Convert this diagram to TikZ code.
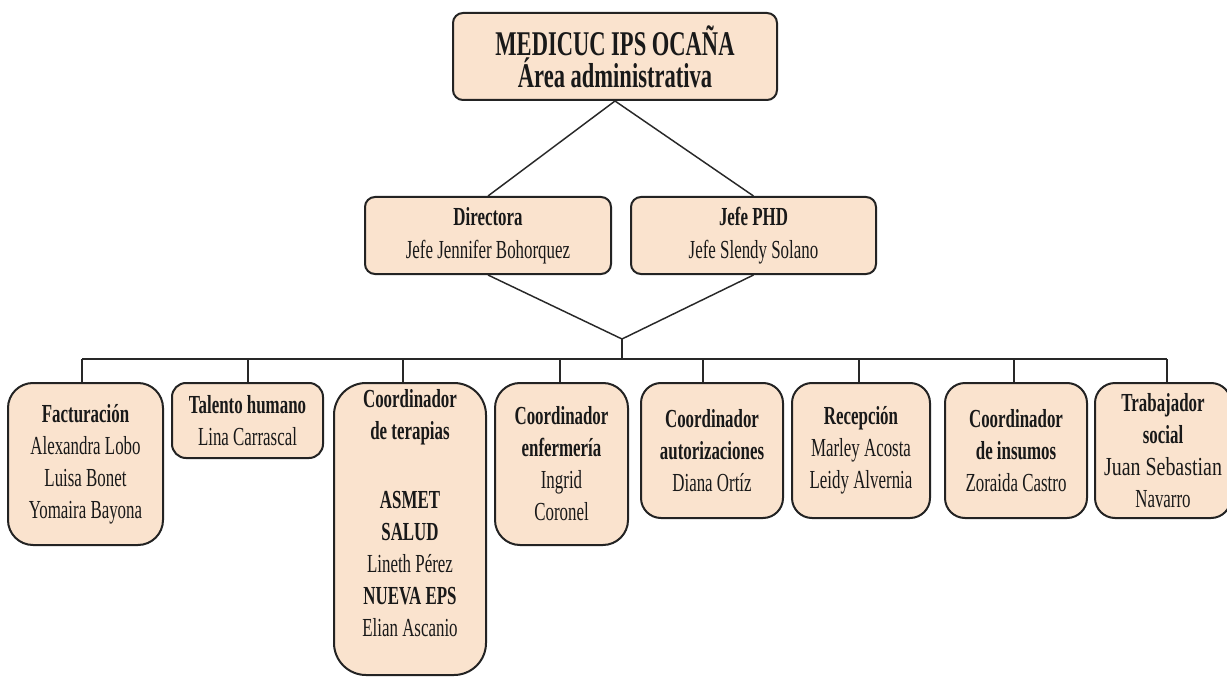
\documentclass[tikz,border=0pt]{standalone}
\usepackage{fontspec}
\setmainfont[FakeStretch=0.65]{Liberation Serif}
\usepackage{graphicx}
\definecolor{boxfill}{RGB}{250,227,206}
\definecolor{boxline}{RGB}{35,35,35}
\definecolor{connline}{RGB}{40,40,40}
\lineskiplimit=-30pt
\begin{document}
\begin{tikzpicture}[x=0.75pt,y=-0.75pt,
  box/.style={draw=boxline, fill=boxfill, line width=1.5pt, align=center, inner sep=0pt,
    text=black!90, font=\fontsize{19.5pt}{24pt}\selectfont},
  midbox/.style={box, font=\fontsize{19.5pt}{25pt}\selectfont},
  topbox/.style={box, font=\bfseries\fontsize{26pt}{24pt}\selectfont},
  conn/.style={draw=connline, line width=1.1pt}]
\useasboundingbox (0,0) rectangle (1227,677);
\fill[white] (0,0) rectangle (1227,677);

% top
\node[topbox, minimum width=243pt, minimum height=65.25pt, rounded corners=7.5pt] (top) at (615,56.5)
  {MEDICUC IPS OCAÑA\\Área administrativa};

% second level
\node[midbox, minimum width=184.5pt, minimum height=57.75pt, rounded corners=7.5pt] (dir) at (488,235.5)
  {\textbf{Directora}\\Jefe Jennifer Bohorquez};
\node[midbox, minimum width=183.75pt, minimum height=57.75pt, rounded corners=7.5pt] (jefe) at (753.5,235.5)
  {\textbf{Jefe PHD}\\Jefe Slendy Solano};

% third level
\node[box, minimum width=116.25pt, minimum height=121.5pt, rounded corners=18.75pt] (fact) at (85.5,464)
  {\textbf{Facturación}\\Alexandra Lobo\\Luisa Bonet\\Yomaira Bayona};
\node[box, minimum width=113.25pt, minimum height=56.25pt, rounded corners=10.5pt] (tal) at (247.5,420.5)
  {\textbf{Talento humano}\\Lina Carrascal};
\node[box, minimum width=114pt, minimum height=219pt, rounded corners=24pt] (ter) at (410,529)
  {\textbf{Coordinador}\\\textbf{de terapias}\\[28pt]\textbf{ASMET}\\\textbf{SALUD}\\Lineth Pérez\\\textbf{NUEVA EPS}\\Elian Ascanio\\\mbox{}};
\node[box, minimum width=99.75pt, minimum height=121.5pt, rounded corners=18.75pt] (enf) at (561.5,464)
  {\textbf{Coordinador}\\\textbf{enfermería}\\Ingrid\\Coronel};
\node[box, minimum width=106.5pt, minimum height=101.25pt, rounded corners=15pt] (aut) at (712,450.5)
  {\textbf{Coordinador}\\\textbf{autorizaciones}\\Diana Ortíz};
\node[box, minimum width=103.5pt, minimum height=101.25pt, rounded corners=15pt] (rec) at (861,450.5)
  {\textbf{Recepción}\\Marley Acosta\\Leidy Alvernia};
\node[box, minimum width=106.5pt, minimum height=101.25pt, rounded corners=15pt] (ins) at (1016,450.5)
  {\textbf{Coordinador}\\\textbf{de insumos}\\Zoraida Castro};
\node[box, minimum width=102pt, minimum height=101.25pt, rounded corners=15pt] (trab) at (1163,450.5)
  {\textbf{Trabajador}\\\textbf{social}\\\scalebox{1.18}[1]{Juan Sebastian}\\Navarro};

% connectors
\coordinate (J) at (622,339);
\coordinate (B) at (622,359);
\draw[conn] (top.south) -- (dir.north);
\draw[conn] (top.south) -- (jefe.north);
\draw[conn] (dir.south) -- (J);
\draw[conn] (jefe.south) -- (J);
\draw[conn] (J) -- (B);

\coordinate (s1) at (82,359);
\coordinate (s2) at (248,359);
\coordinate (s3) at (403,359);
\coordinate (s4) at (560,359);
\coordinate (s5) at (703,359);
\coordinate (s6) at (859,359);
\coordinate (s7) at (1014,359);
\coordinate (s8) at (1167,359);
\draw[conn] (s1) -- (s8);
\draw[conn] (s1) -- (s1 |- fact.north);
\draw[conn] (s2) -- (s2 |- tal.north);
\draw[conn] (s3) -- (s3 |- ter.north);
\draw[conn] (s4) -- (s4 |- enf.north);
\draw[conn] (s5) -- (s5 |- aut.north);
\draw[conn] (s6) -- (s6 |- rec.north);
\draw[conn] (s7) -- (s7 |- ins.north);
\draw[conn] (s8) -- (s8 |- trab.north);
\end{tikzpicture}
\end{document}
